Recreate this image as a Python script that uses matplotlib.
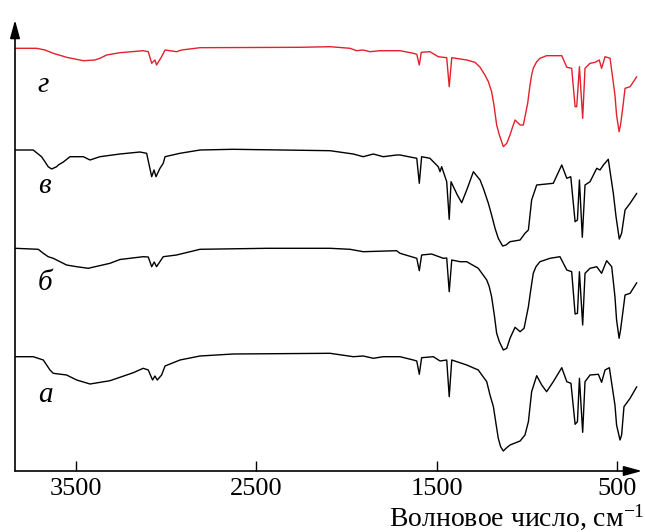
import matplotlib
matplotlib.use("Agg")
import matplotlib.pyplot as plt

plt.rcParams['font.family'] = ['Liberation Serif', 'DejaVu Serif']
plt.rcParams['mathtext.fontset'] = 'custom'
plt.rcParams['mathtext.rm'] = 'Liberation Serif'
plt.rcParams['mathtext.it'] = 'Liberation Serif:italic'

# ---- data (heights in arbitrary units) ----
wn_g = [3838, 3718, 3672, 3626, 3552, 3459, 3395, 3367, 3330, 3256, 3127, 3099, 3080, 3062, 3053, 3025,
        3006, 2942, 2914, 2812, 2258, 2091, 1980, 1943, 1907, 1870, 1814, 1703, 1629, 1610, 1596, 1585,
        1537, 1491, 1444, 1430, 1416, 1333, 1287, 1260, 1232, 1213, 1195, 1182, 1167, 1152, 1130, 1111,
        1093, 1078, 1065, 1037, 1019, 995, 982, 973, 964, 945, 927, 890, 806, 778, 751, 732, 723, 708,
        690, 677, 649, 621, 598, 585, 566, 538, 511, 502, 488, 480, 468, 455, 427, 390]
sig_g = [422.7, 422.7, 421, 417.7, 413.7, 410.3, 411, 412.7, 416, 418.3, 420.3, 419.3, 407.7, 411, 406, 414.3,
         421, 419.3, 421, 423.3, 423.7, 424.3, 422.7, 420.3, 421, 419.3, 420.3, 420.3, 417.7, 416.7, 406, 418.7,
         419.3, 414.3, 413.3, 384.3, 413.3, 411, 408.7, 404, 396, 389.3, 379.3, 366, 346, 336, 324.3, 327.7,
         336, 344.3, 351, 346, 346, 367.7, 386, 396, 402.7, 409.3, 412.7, 415.3, 415.3, 403.7, 402.7, 364.3,
         364.3, 404.3, 352.7, 402.7, 407.7, 408.7, 411, 402.7, 414.3, 412.7, 376, 356, 339.3, 346, 362.7,
         382.7, 384.3, 394.3]

wn_v = [3838, 3737, 3691, 3672, 3654, 3635, 3607, 3598, 3570, 3533, 3459, 3422, 3367, 3256, 3145, 3108,
        3080, 3067, 3056, 3034, 3016, 3006, 2923, 2812, 2629, 2091, 1962, 1907, 1851, 1796, 1722, 1703,
        1610, 1596, 1583, 1537, 1491, 1481, 1472, 1444, 1430, 1420, 1407, 1385, 1361, 1333, 1296, 1259,
        1241, 1213, 1195, 1176, 1158, 1134, 1115, 1093, 1037, 1010, 991, 973, 945, 853, 806, 778, 756,
        732, 719, 708, 692, 677, 649, 612, 594, 575, 548, 520, 505, 487, 474, 455, 427, 390]
sig_v = [321, 321, 314.3, 309.3, 304.3, 302, 304.3, 306, 309, 314.3, 314.3, 311, 314.3, 317, 319, 317.7,
         294.3, 301, 294.3, 302.7, 307.7, 314.3, 317.7, 321, 321.7, 320.3, 317, 314.3, 317, 314.3, 316, 316,
         312.7, 287.7, 314.3, 312.7, 304.3, 299.3, 304.3, 289.3, 251.7, 289.3, 284.3, 276, 268.3, 281, 299.3,
         291, 282.7, 267.7, 256, 242.7, 232.7, 225, 226, 229.3, 231, 237.7, 241, 271, 286, 287.7, 306, 292.7,
         294.3, 249.3, 251, 291, 233.7, 286, 289.3, 302.7, 301, 306, 311.7, 277.7, 254.3, 232, 237.7, 261,
         267.7, 277.7]

wn_b = [3838, 3709, 3681, 3654, 3626, 3552, 3496, 3432, 3311, 3256, 3127, 3099, 3080, 3066, 3053, 3016,
        2942, 2812, 2442, 2091, 1980, 1907, 1722, 1703, 1610, 1596, 1583, 1528, 1463, 1444, 1430, 1416,
        1370, 1333, 1269, 1222, 1208, 1195, 1180, 1167, 1152, 1130, 1111, 1093, 1065, 1037, 1015, 991,
        978, 964, 949, 927, 871, 816, 778, 751, 732, 719, 708, 690, 677, 649, 612, 585, 557, 529, 511,
        502, 488, 480, 468, 455, 427, 390]
sig_b = [222.7, 221.7, 217.7, 214.3, 212.7, 206, 204.3, 202.7, 207.7, 211.5, 214.3, 214, 204.3, 209, 204.3,
         214.3, 216, 221.7, 222.7, 222.7, 221.7, 219.3, 220.3, 217.7, 212.7, 200.3, 216, 217, 212.7, 213,
         179.3, 211, 209.3, 209.3, 202.7, 191, 184.3, 174.3, 156, 137.7, 129.3, 121, 122.7, 132.7, 143.7,
         139.3, 142.7, 164.3, 181, 197.7, 204.3, 209.3, 212.7, 214.3, 201, 199.3, 157, 157.7, 199.3, 146,
         197.7, 202.7, 204.3, 197.7, 210.3, 204.3, 174.3, 151, 132.7, 141, 157.7, 176, 177.7, 188.3]

wn_a = [3838, 3737, 3681, 3644, 3626, 3552, 3496, 3422, 3311, 3182, 3127, 3099, 3075, 3062, 3049, 3025,
        3006, 2923, 2812, 2628, 2091, 1962, 1907, 1851, 1796, 1703, 1629, 1610, 1596, 1583, 1518, 1481,
        1444, 1430, 1416, 1333, 1269, 1222, 1204, 1185, 1171, 1158, 1145, 1130, 1115, 1093, 1037, 1010,
        991, 973, 945, 917, 890, 853, 806, 778, 755, 732, 719, 708, 690, 677, 649, 603, 585, 566, 542,
        511, 502, 483, 474, 461, 427, 390]
sig_a = [114.3, 114.3, 111, 101, 97.7, 96, 91, 87, 90.3, 98.3, 102.7, 101, 91, 95, 91, 96,
         105, 111, 115, 117, 117.7, 114.3, 115, 112.7, 114.3, 114.3, 111, 110, 96.7, 113.3, 114.3, 110,
         111, 74.3, 111, 106, 101, 89.3, 76, 64.3, 47.7, 32.7, 24.3, 20, 22.7, 26, 30, 36,
         49.3, 79.3, 95.3, 86, 79.3, 89.3, 103.3, 89.3, 87.7, 46.7, 49.3, 92.7, 38.7, 89.3, 96, 96.7,
         88.7, 101, 103.3, 66, 46, 31, 36, 64.3, 72.7, 84.3]

labels = ['а', 'б', 'в', 'г']
label_heights = [69, 181, 278, 379]
tick_values = [3500, 2500, 1500, 500]
x_label = 'Волновое число, см$^{-1}$'

# ---- figure ----
fig = plt.figure(figsize=(6.45, 5.32), dpi=100)
W, H = 645, 532
ax = fig.add_axes([15 / W, 61 / H, 627 / W, 451 / H])
ax.set_xlim(3838, 361)
ax.set_ylim(0, 451)

series = [(wn_a, sig_a, 'black'), (wn_b, sig_b, 'black'), (wn_v, sig_v, 'black'), (wn_g, sig_g, '#e3202b')]
for wn, sig, col in series:
    ax.plot(wn, sig, color=col, lw=1.0, solid_joinstyle='round', solid_capstyle='round')

for lab, h in zip(labels, label_heights):
    ax.text(3712, h, lab, fontsize=21, style='italic', ha='left', va='baseline')

for sp in ax.spines.values():
    sp.set_visible(False)

arrow = dict(arrowstyle='-|>,head_length=1.1,head_width=0.3', color='black', lw=1.2,
             mutation_scale=10, shrinkA=0, shrinkB=0)
ax.annotate('', xy=(0, 1), xytext=(0, 0), xycoords='axes fraction', arrowprops=arrow)
ax.annotate('', xy=(1, 0), xytext=(0, 0), xycoords='axes fraction', arrowprops=arrow)

ax.set_xticks(tick_values)
ax.set_xticklabels([str(v) for v in tick_values])
ax.tick_params(axis='x', direction='in', length=7, width=1.0, labelsize=19, pad=5)
ax.set_yticks([])

fig.text(1.0, 15 / H, x_label, fontsize=20, ha='right', va='center')

fig.savefig('out.png', dpi=100)
